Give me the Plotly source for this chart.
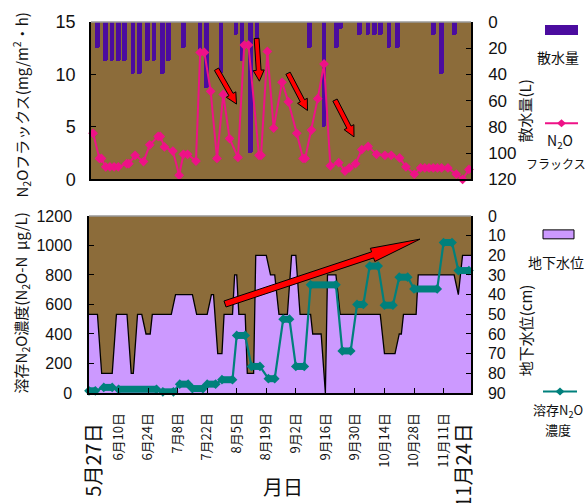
import math
import plotly.graph_objects as go

YEAR = 2008

def D(md):
    return f"{YEAR}-{md}"

# ---------------- data ----------------
# top panel : irrigation amount (散水量, L) – bars hanging from the top (reversed right axis)
irr_dates = ["05-30", "06-03", "06-06", "06-09", "06-12", "06-16", "06-19", "06-23", "06-26", "06-30",
             "07-03", "07-10", "07-18", "07-21", "07-28", "08-04", "08-07", "08-11", "08-14",
             "09-08", "09-15", "09-21", "09-23", "10-02", "10-06", "10-09", "10-12", "10-16", "10-20",
             "11-06", "11-10", "11-16"]
irr_values = [20, 30, 30, 30, 30, 40, 40, 30, 30, 40,
              30, 20, 25, 50, 40, 10, 30, 100, 30,
              20, 80, 20, 5, 10, 10, 10, 10, 20, 20,
              10, 40, 10]

# top panel : N2O flux (mg/m2/h)
flux_dates = ["05-28", "05-31", "06-01", "06-03", "06-05", "06-07", "06-09", "06-13", "06-14", "06-17",
              "06-21", "06-24", "06-28", "06-29", "07-01", "07-05", "07-08", "07-10", "07-12", "07-16",
              "07-18", "07-20", "07-23", "07-26", "07-29", "08-01", "08-05", "08-08", "08-10", "08-15",
              "08-16", "08-19", "08-22", "08-26", "08-29", "09-02", "09-05", "09-06", "09-09", "09-12",
              "09-15", "09-18", "09-22", "09-25", "09-27", "09-30", "10-03", "10-06", "10-10", "10-14",
              "10-17", "10-21", "10-24", "10-28", "10-31", "11-02", "11-04", "11-06", "11-08", "11-10",
              "11-13", "11-17", "11-20", "11-23"]
flux_values = [4.4, 2.0, 2.0, 1.2, 1.2, 1.2, 1.2, 1.5, 1.5, 2.3,
               1.7, 3.3, 4.1, 4.1, 3.1, 2.7, 0.4, 2.4, 2.4, 1.75,
               12.1, 12.1, 8.4, 2.0, 8.1, 3.9, 2.1, 12.8, 12.8, 2.3,
               2.3, 12.2, 4.9, 9.25, 7.4, 4.4, 2.0, 2.0, 4.7, 7.7,
               11.0, 1.3, 1.6, 0.8, 1.1, 1.5, 2.85, 3.15, 2.4, 2.3,
               2.3, 2.05, 1.2, 0.5, 1.1, 1.1, 1.1, 1.1, 1.1, 1.1,
               1.1, 0.5, 0.0, 0.95]

# bottom panel : ground-water level (地下水位, cm below surface)
gw_dates = ["05-27", "05-31", "06-02", "06-07", "06-09", "06-14", "06-16", "06-17", "06-19", "06-21",
            "06-23", "06-25", "06-26", "07-05", "07-07", "07-15", "07-17", "07-22", "07-24", "07-25",
            "07-27", "07-29", "07-30", "08-03", "08-04", "08-05", "08-06", "08-09", "08-10", "08-13",
            "08-14", "08-19", "08-21", "08-23", "08-25", "08-29", "08-31", "09-02", "09-04", "09-09",
            "09-10", "09-14", "09-16", "09-17", "09-21", "09-23", "10-12", "10-14", "10-19", "10-21",
            "10-22", "10-23", "10-29", "10-30", "11-16", "11-18", "11-20", "11-24"]
gw_depth = [50, 50, 80, 80, 50, 50, 80, 80, 50, 50,
            60, 60, 50, 50, 40, 40, 50, 50, 40, 40,
            70, 70, 50, 50, 30, 30, 50, 50, 80, 80,
            20, 20, 30, 30, 50, 50, 20, 20, 50, 50,
            60, 60, 90, 30, 30, 50, 50, 70, 70, 60,
            60, 50, 50, 30, 30, 40, 20, 20]

# bottom panel : dissolved N2O concentration (µg N/L), constant over each period
conc_start = ["05-27", "06-03", "06-10", "07-01", "07-09", "07-15", "07-22", "07-29", "08-05", "08-12",
              "08-20", "08-27", "09-02", "09-09", "09-24", "10-01", "10-07", "10-14", "10-21", "10-28",
              "11-11", "11-18"]
conc_end = ["05-30", "06-07", "06-28", "07-06", "07-13", "07-20", "07-26", "08-03", "08-09", "08-16",
            "08-23", "08-30", "09-06", "09-21", "09-28", "10-04", "10-11", "10-18", "10-25", "11-08",
            "11-15", "11-23"]
conc_values = [15, 38, 25, 8, 60, 30, 60, 90, 390, 180,
               97, 500, 180, 733, 285, 600, 860, 595, 785, 705,
               1020, 830]

tick_dates = ["06-10", "06-24", "07-08", "07-22", "08-05", "08-19", "09-02", "09-16", "09-30",
              "10-14", "10-28", "11-11"]
tick_labels = ["6月10日", "6月24日", "7月8日", "7月22日", "8月5日", "8月19日", "9月2日", "9月16日",
               "9月30日", "10月14日", "10月28日", "11月11日"]
first_label, last_label = "5月27日", "11月24日"
x_start, x_end = "05-27", "11-24"

# ---------------- styling ----------------
W, H = 587, 503
PL, PR, PT, PB = 89, 471, 20, 393           # plot-area pixel box
TOP_BOTTOM_PX, BOT_TOP_PX, TOP_LEFT_PX = 178.3, 215, 91

BG = "#8C6C3A"
PURPLE = "#4B0C9F"
PINK = "#EE1287"
TEAL = "#00807C"
LAV = "#CC99FF"
NUMFONT = "Liberation Sans, Arial, sans-serif"
JPFONT = "Noto Sans CJK JP, sans-serif"
LABEL_GAP = "\u2002\u2002"   # pushes rotated tick labels away from the axis


def fx(px):
    return (px - PL) / (PR - PL)


def fy(py):
    return (PB - py) / (PB - PT)


fig = go.Figure()

# irrigation bars (base axis of top panel)
fig.add_trace(go.Bar(
    x=[D(d) for d in irr_dates], y=irr_values, xaxis="x", yaxis="y",
    width=2.2 * 86400000, marker=dict(color=PURPLE, line=dict(width=0)),
    showlegend=False, hoverinfo="skip"))

# N2O flux
fig.add_trace(go.Scatter(
    x=[D(d) for d in flux_dates], y=flux_values, xaxis="x", yaxis="y2",
    mode="lines+markers", line=dict(color=PINK, width=2),
    marker=dict(symbol="diamond", size=7.5, color=PINK),
    cliponaxis=False, showlegend=False, hoverinfo="skip"))

# ground water: baseline at 90 then filled level line
fig.add_trace(go.Scatter(
    x=[D(x_start), D(x_end)], y=[90, 90], xaxis="x2", yaxis="y3",
    mode="lines", line=dict(width=0, color=LAV), showlegend=False, hoverinfo="skip"))
fig.add_trace(go.Scatter(
    x=[D(d) for d in gw_dates], y=gw_depth, xaxis="x2", yaxis="y3",
    mode="lines", line=dict(color="black", width=1.3), fill="tonexty", fillcolor=LAV,
    showlegend=False, hoverinfo="skip"))

# dissolved N2O: thin connecting line + markers, and thick band for each period
cx, cy, bx, by = [], [], [], []
for s, e, v in zip(conc_start, conc_end, conc_values):
    cx += [D(s), D(e)]
    cy += [v, v]
    bx += [D(s), D(e), None]
    by += [v, v, None]
fig.add_trace(go.Scatter(
    x=bx, y=by, xaxis="x2", yaxis="y4", mode="lines",
    line=dict(color=TEAL, width=7), connectgaps=False,
    showlegend=False, hoverinfo="skip"))
fig.add_trace(go.Scatter(
    x=cx, y=cy, xaxis="x2", yaxis="y4", mode="lines+markers",
    line=dict(color=TEAL, width=2.2), marker=dict(symbol="diamond", size=7.5, color=TEAL),
    cliponaxis=False, showlegend=False, hoverinfo="skip"))

ax_common = dict(showgrid=False, zeroline=False, showline=True, linecolor="black",
                 linewidth=1.5, ticks="inside", ticklen=5, tickcolor="black")

fig.update_layout(
    width=W, height=H,
    margin=dict(l=PL, r=W - PR, t=PT, b=H - PB, pad=0),
    paper_bgcolor="white", plot_bgcolor=BG,
    barcornerradius=2,
    bargap=0,
    xaxis=dict(domain=[fx(TOP_LEFT_PX), 1], anchor="y", type="date",
               range=[D(x_start), D(x_end)], showgrid=False, zeroline=False,
               showline=True, linecolor="black", linewidth=1.5,
               ticks="", showticklabels=False),
    yaxis=dict(domain=[fy(TOP_BOTTOM_PX), 1], anchor="x", side="right",
               range=[120, 0], dtick=20, tick0=0,
               tickfont=dict(family=NUMFONT, size=17, color="#111"),
               ticklabelstandoff=12, **ax_common),
    yaxis2=dict(overlaying="y", anchor="x", side="left", range=[0, 15], dtick=5,
                tickfont=dict(family=NUMFONT, size=18, color="#111"),
                ticklabelstandoff=10, **ax_common),
    xaxis2=dict(domain=[0, 1], anchor="y3", type="date",
                range=[D(x_start), D(x_end)], showgrid=False, zeroline=False,
                showline=True, linecolor="black", linewidth=1.5,
                ticks="inside", ticklen=5, tickcolor="black",
                tickvals=[D(d) for d in tick_dates],
                ticktext=[t + LABEL_GAP for t in tick_labels],
                tickangle=-90,
                tickfont=dict(family=JPFONT, size=13, color="#111")),
    yaxis3=dict(domain=[0, fy(BOT_TOP_PX)], anchor="x2", side="right",
                range=[90, 0], dtick=10, tick0=0,
                tickfont=dict(family=NUMFONT, size=16, color="#111"),
                ticklabelstandoff=12, **ax_common),
    yaxis4=dict(overlaying="y3", anchor="x2", side="left", range=[0, 1200], dtick=200,
                tickfont=dict(family=NUMFONT, size=16, color="#111"),
                ticklabelstandoff=12, **ax_common),
)


# ---------------- decorations (paper coordinates from pixel positions) ----------------
def arrow(x0, y0, x1, y1, sw, hw, hl):
    L = math.hypot(x1 - x0, y1 - y0)
    ux, uy = (x1 - x0) / L, (y1 - y0) / L
    nx, ny = -uy, ux
    bxp, byp = x1 - ux * hl, y1 - uy * hl
    pts = [(x0 + nx * sw, y0 + ny * sw), (bxp + nx * sw, byp + ny * sw),
           (bxp + nx * hw, byp + ny * hw), (x1, y1),
           (bxp - nx * hw, byp - ny * hw), (bxp - nx * sw, byp - ny * sw),
           (x0 - nx * sw, y0 - ny * sw)]
    path = "M " + " L ".join(f"{fx(a):.5f},{fy(b):.5f}" for a, b in pts) + " Z"
    return dict(type="path", xref="paper", yref="paper", path=path,
                fillcolor="#FF0000", line=dict(color="black", width=1), layer="above")


shapes = []
# top borders (grey)
shapes.append(dict(type="line", xref="paper", yref="paper", x0=fx(TOP_LEFT_PX), x1=1, y0=1, y1=1,
                   line=dict(color="#9A9A9A", width=1.5)))
shapes.append(dict(type="line", xref="paper", yref="paper", x0=0, x1=1,
                   y0=fy(BOT_TOP_PX), y1=fy(BOT_TOP_PX), line=dict(color="#9A9A9A", width=1.5)))
# red arrows
for a in [(216.5, 67.5, 236.5, 102.5), (256.6, 36.5, 259.4, 79.5),
          (288.0, 71.5, 307.5, 109.0), (335.0, 98.5, 354.0, 135.5)]:
    shapes.append(arrow(*a, sw=2.4, hw=5.5, hl=11))
shapes.append(arrow(225, 303.5, 420, 238.3, sw=3.2, hw=7, hl=50))


def diamond(cx_, cy_, r, color):
    pts = [(cx_, cy_ - r), (cx_ + r * 1.1, cy_), (cx_, cy_ + r), (cx_ - r * 1.1, cy_)]
    path = "M " + " L ".join(f"{fx(a):.5f},{fy(b):.5f}" for a, b in pts) + " Z"
    return dict(type="path", xref="paper", yref="paper", path=path, fillcolor=color,
                line=dict(width=0))


# legend swatches
shapes.append(dict(type="rect", xref="paper", yref="paper", x0=fx(545), x1=fx(578),
                   y0=fy(33), y1=fy(23), fillcolor=PURPLE, line=dict(width=0)))
shapes.append(dict(type="line", xref="paper", yref="paper", x0=fx(545), x1=fx(578),
                   y0=fy(121.7), y1=fy(121.7), line=dict(color=PINK, width=2)))
shapes.append(diamond(561.5, 121.7, 4, PINK))
shapes.append(dict(type="rect", xref="paper", yref="paper", x0=fx(543), x1=fx(574),
                   y0=fy(238), y1=fy(229), fillcolor=LAV, line=dict(color="black", width=1)))
shapes.append(dict(type="line", xref="paper", yref="paper", x0=fx(543), x1=fx(577),
                   y0=fy(391.5), y1=fy(391.5), line=dict(color=TEAL, width=2)))
shapes.append(diamond(560, 391.5, 4, TEAL))
fig.update_layout(shapes=shapes)


def ann(text, px, py, size, angle=0, family=JPFONT):
    return dict(text=text, x=fx(px), y=fy(py), xref="paper", yref="paper",
                showarrow=False, textangle=angle, xanchor="center", yanchor="middle",
                font=dict(family=family, size=size, color="#111"))


annotations = [
    ann("N<sub>2</sub>Oフラックス(mg/m<sup>2</sup>・h)", 21, 104, 15, -90),
    ann("溶存N<sub>2</sub>O濃度(N<sub>2</sub>O-N  μg/L)", 21, 303, 15, -90),
    ann("散水量(L)", 525, 110, 15, -90),
    ann("地下水位(cm)", 525, 330, 15, -90),
    ann("散水量", 558, 55, 14),
    ann("N<sub>2</sub>O", 560, 140, 14),
    ann("フラックス", 556, 162, 12),
    ann("地下水位", 556, 261, 14),
    ann("溶存N<sub>2</sub>O", 558, 411, 13),
    ann("濃度", 558, 430, 13),
    ann("月日", 283, 487, 20),
    ann(first_label, 93, 461, 20, -90),
    ann(last_label, 463, 466, 20, -90),
]
fig.update_layout(annotations=annotations)

fig.write_html("out.html", config={"displayModeBar": False},
               post_script="document.body.style.margin='0px';document.body.style.overflow='hidden';")
